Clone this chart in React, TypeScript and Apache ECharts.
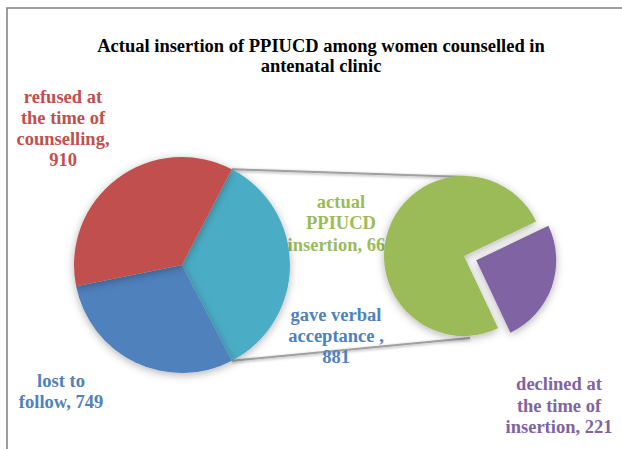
import React, { useEffect, useRef } from "react";
import * as echarts from "echarts";

// Main pie
const categories = ["refused at\nthe time of\ncounselling", "lost to\nfollow", "gave verbal\nacceptance "];
const values = [910, 749, 881];
const labelSep = [",\n", ", ", ",\n"];
// Secondary pie (breakdown of "gave verbal acceptance")
const subCategories = ["actual\nPPIUCD\ninsertion", "declined at\nthe time of\ninsertion"];
const subValues = [660, 221];
const subSep = [", ", ", "];

const titleText = "Actual insertion of PPIUCD among women counselled in\nantenatal clinic";

const mainColors = ["#C0504D", "#4F81BD", "#4BACC6"];
const mainLabelColors = ["#C0504D", "#4F81BD", "#4F81BD"];
const subColors = ["#9BBB59", "#8064A2"];

export default function App() {
  const ref = useRef<HTMLDivElement>(null);
  useEffect(() => {
    if (!ref.current) return;
    const chart = echarts.init(ref.current, undefined, { renderer: "svg" });
    const font = "Liberation Serif";
    const fs = 18.5;

    const c1 = [182, 265];
    const r1 = 108;
    const c2 = [464, 256];
    const r2 = 80;

    const total = values.reduce((a, b) => a + b, 0);
    const otherIdx = 2;
    const half = (values[otherIdx] / total) * 360 / 2;
    const startAngle = half;
    const rad = (half * Math.PI) / 180;
    const pTop = [c1[0] + r1 * Math.cos(rad), c1[1] - r1 * Math.sin(rad)];
    const pBot = [c1[0] + r1 * Math.cos(rad), c1[1] + r1 * Math.sin(rad)];
    const qTop = [c2[0] + 3, c2[1] - r2 + 1];
    const qBot = [c2[0] + 6, c2[1] + r2 + 2];

    const order = [2, 1, 0];
    const mainData = order.map((i) => ({
      name: categories[i],
      value: values[i],
      itemStyle: { color: mainColors[i] },
    }));
    const subOrder = [1, 0];
    const subData = subOrder.map((i) => ({
      name: subCategories[i],
      value: subValues[i],
      selected: i === 1,
      itemStyle: { color: subColors[i] },
    }));

    const labelPos = [
      [63, 86.5],
      [61, 370.5],
      [336, 304.5],
    ];
    const subLabelPos = [
      [341, 191],
      [559, 373.5],
    ];

    const texts: any[] = [];
    categories.forEach((n, i) => {
      texts.push({
        type: "text",
        z: 0,
        x: labelPos[i][0],
        y: labelPos[i][1],
        style: {
          text: `${n}${labelSep[i]}${values[i]}`,
          fill: mainLabelColors[i],
          fontFamily: font,
          fontWeight: "bold",
          fontSize: fs,
          lineHeight: 21,
          align: "center",
          verticalAlign: "top",
        },
      });
    });
    subCategories.forEach((n, i) => {
      texts.push({
        type: "text",
        z: 0,
        x: subLabelPos[i][0],
        y: subLabelPos[i][1],
        style: {
          text: `${n}${subSep[i]}${subValues[i]}`,
          fill: subColors[i],
          fontFamily: font,
          fontWeight: "bold",
          fontSize: fs,
          lineHeight: 21.5,
          align: "center",
          verticalAlign: "top",
        },
      });
    });

    const lineStyle = {
      stroke: "#A0A0A0",
      lineWidth: 2,
      shadowBlur: 3,
      shadowColor: "rgba(0,0,0,0.35)",
      shadowOffsetY: 1,
    };

    chart.setOption({
      animation: false,
      backgroundColor: "#ffffff",
      title: {
        text: titleText,
        left: 316,
        top: 31,
        textAlign: "center",
        textStyle: {
          fontFamily: font,
          fontWeight: "bold",
          fontSize: fs,
          lineHeight: 20,
          color: "#000000",
        },
      },
      graphic: [
        {
          type: "rect",
          z: 0,
          shape: { x: 7, y: 8, width: 700, height: 500 },
          style: { fill: "none", stroke: "#7F7F7F", lineWidth: 1.5 },
        },
        { type: "line", z: 0, shape: { x1: pTop[0], y1: pTop[1], x2: qTop[0], y2: qTop[1] }, style: lineStyle },
        { type: "line", z: 0, shape: { x1: pBot[0], y1: pBot[1], x2: qBot[0], y2: qBot[1] }, style: lineStyle },
        ...texts,
      ],
      series: [
        {
          type: "pie",
          z: 3,
          center: c1,
          radius: r1,
          startAngle,
          clockwise: true,
          label: { show: false },
          labelLine: { show: false },
          emphasis: { disabled: true },
          silent: true,
          itemStyle: {
            shadowBlur: 8,
            shadowColor: "rgba(0,0,0,0.3)",
            shadowOffsetY: 2,
          },
          data: mainData,
        },
        {
          type: "pie",
          z: 3,
          center: c2,
          radius: r2,
          startAngle: 25.6,
          clockwise: true,
          selectedMode: "single",
          selectedOffset: 13,
          label: { show: false },
          labelLine: { show: false },
          emphasis: { disabled: true },
          itemStyle: {
            shadowBlur: 8,
            shadowColor: "rgba(0,0,0,0.3)",
            shadowOffsetY: 2,
          },
          data: subData,
        },
      ],
    });
    return () => chart.dispose();
  }, []);
  return (
    <div
      ref={ref}
      style={{ position: "fixed", left: 0, top: 0, width: 622, height: 449 }}
    />
  );
}
